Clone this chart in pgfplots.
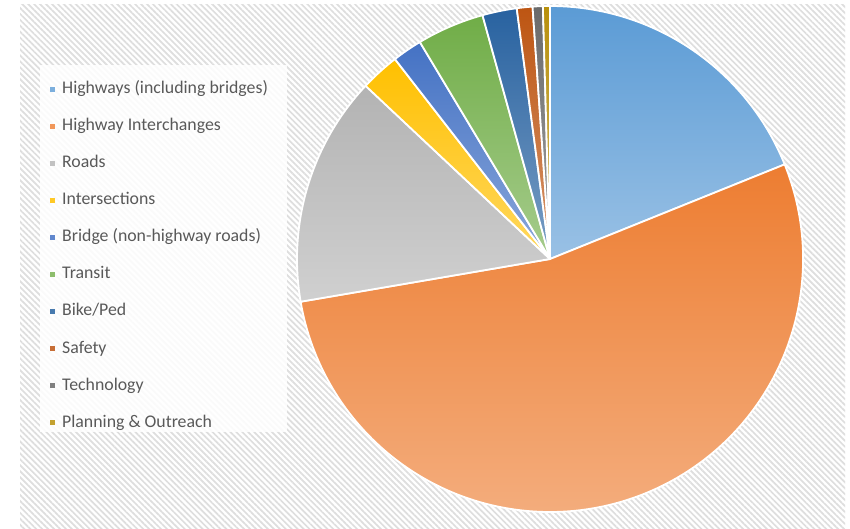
\documentclass[border=0pt]{standalone}
\usepackage{fontspec}
\setmainfont{Carlito}
\usepackage{pgfplots}
\usepackage{pgfplotstable}
\pgfplotsset{compat=1.18}
\usetikzlibrary{patterns.meta}

\definecolor{cHwy}{HTML}{5B9BD5}
\definecolor{cInt}{HTML}{ED7D31}
\definecolor{cRoad}{HTML}{B3B3B3}
\definecolor{cIsec}{HTML}{FFC000}
\definecolor{cBrid}{HTML}{4472C4}
\definecolor{cTran}{HTML}{70AD47}
\definecolor{cBike}{HTML}{2862A0}
\definecolor{cSafe}{HTML}{BD5512}
\definecolor{cTech}{HTML}{6A6A6A}
\definecolor{cPlan}{HTML}{B8900C}
\definecolor{txtgrey}{HTML}{595959}
\definecolor{hatch}{HTML}{DEDEDE}

% share of each category, percent
\pgfplotstableread{
value color
18.9  cHwy
53.4  cInt
14.7  cRoad
2.5   cIsec
1.9   cBrid
4.3   cTran
2.2   cBike
1.0   cSafe
0.65  cTech
0.45  cPlan
}\piedata

\begin{document}
\begin{tikzpicture}
\begin{axis}[
    width=850bp, height=528bp, scale only axis,
    xmin=0, xmax=850, ymin=0, ymax=528,
    hide axis, clip=false,
    legend image code/.code={\fill[#1, draw=none] (0bp,-2.5bp) rectangle (5bp,2.5bp);},
    legend style={
        at={(0.0588,0.8485)}, anchor=north west,
        draw=none, fill=none, inner sep=0pt,
        row sep=19.4bp, column sep=7bp,
        font=\fontsize{17.8bp}{20bp}\selectfont, text=txtgrey,
        nodes={inner sep=0pt, text height=13.2bp, text depth=4.5bp},
        cells={anchor=west},
    },
]
\pgfplotsextra{
    % page and hatched chart area
    \fill[white] (axis cs:0,0) rectangle (axis cs:850,528);
    \fill[pattern={Lines[angle=-45,distance=4.2bp,line width=1.7bp]},
          pattern color=hatch] (axis cs:20,0) rectangle (axis cs:845,523);
    % legend box
    \fill[white, opacity=0.85] (axis cs:40,96) rectangle (axis cs:287,463);
    % slices, clockwise from 12 o'clock
    \def\cum{0}
    \pgfplotsforeachungrouped \i in {0,...,9}{%
        \pgfplotstablegetelem{\i}{value}\of\piedata
        \let\sliceval=\pgfplotsretval
        \pgfplotstablegetelem{\i}{color}\of\piedata
        \let\slicecol=\pgfplotsretval
        \pgfmathsetmacro\angA{90-3.6*\cum}
        \pgfmathsetmacro\angB{90-3.6*(\cum+\sliceval)}
        \shade[top color=\slicecol, bottom color=\slicecol!62!white,
               draw=white, line width=1.8bp, line join=round]
            (axis cs:550,269) -- ++(\angA:253bp)
            arc[start angle=\angA, end angle=\angB, radius=253bp] -- cycle;
        \pgfmathsetmacro\cum{\cum+\sliceval}
    }
}
\addlegendimage{fill=cHwy!80!white}
\addlegendentry{Highways (including bridges)}
\addlegendimage{fill=cInt!80!white}
\addlegendentry{Highway Interchanges}
\addlegendimage{fill=cRoad!80!white}
\addlegendentry{Roads}
\addlegendimage{fill=cIsec!85!white}
\addlegendentry{Intersections}
\addlegendimage{fill=cBrid!85!white}
\addlegendentry{Bridge (non-highway roads)}
\addlegendimage{fill=cTran!80!white}
\addlegendentry{Transit}
\addlegendimage{fill=cBike!85!white}
\addlegendentry{Bike/Ped}
\addlegendimage{fill=cSafe!85!white}
\addlegendentry{Safety}
\addlegendimage{fill=cTech!85!white}
\addlegendentry{Technology}
\addlegendimage{fill=cPlan!85!white}
\addlegendentry{Planning \& Outreach}
\end{axis}
\end{tikzpicture}
\end{document}
